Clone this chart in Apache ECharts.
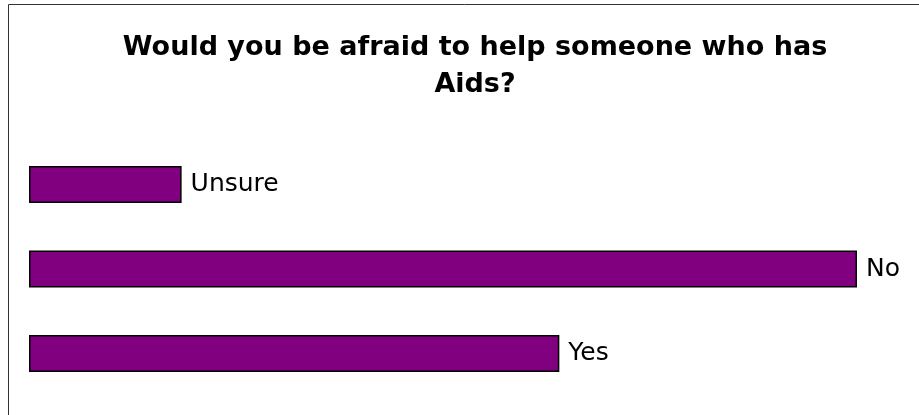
<!DOCTYPE html>
<html>
<head>
<meta charset="utf-8">
<script src="https://cdn.jsdelivr.net/npm/echarts@6/dist/echarts.min.js"></script>
<style>
  html, body { margin: 0; padding: 0; background: #fff; }
  #chart { width: 919px; height: 415px; }
</style>
</head>
<body>
<div id="chart"></div>
<script>
const categories = ['Unsure', 'No', 'Yes']
const values = [10.1, 54.8, 35.1]
const titleText = 'Would you be afraid to help someone who has\nAids?'

const chart = echarts.init(document.getElementById('chart'))
chart.setOption({
  animation: false,
  title: {
    text: titleText,
    left: 470,
    top: 24,
    textAlign: 'center',
    textStyle: { fontFamily: 'DejaVu Sans', fontWeight: 'bold', fontSize: 27, lineHeight: 37, color: '#000' }
  },
  graphic: [{
    type: 'rect',
    shape: { x: 8.5, y: 4.5, width: 930, height: 430 },
    style: { fill: 'none', stroke: '#333', lineWidth: 1 },
    silent: true
  }],
  grid: { left: 29, top: 142.25, width: 828, height: 253.5, containLabel: false },
  xAxis: {
    type: 'value', min: 0, max: values[1],
    show: false
  },
  yAxis: {
    type: 'category', data: categories, inverse: true,
    show: false
  },
  series: [{
    type: 'bar',
    data: values,
    barWidth: 37,
    itemStyle: { color: '#800080', borderColor: '#000', borderWidth: 1.5 },
    label: {
      show: true,
      position: 'right',
      distance: 9,
      formatter: p => categories[p.dataIndex],
      fontFamily: 'DejaVu Sans',
      fontSize: 25,
      color: '#000'
    }
  }]
})
</script>
</body>
</html>
